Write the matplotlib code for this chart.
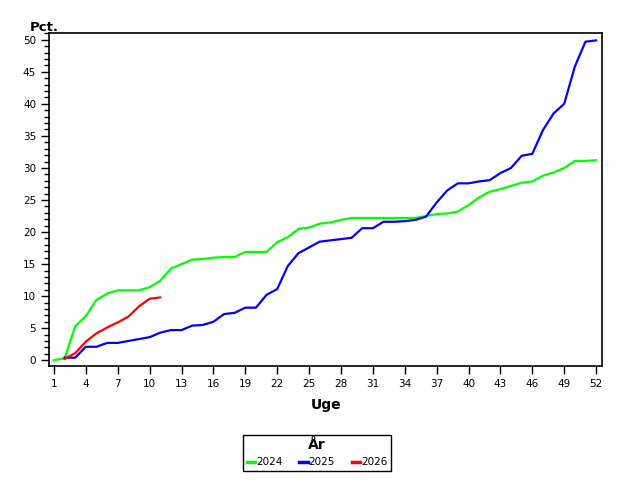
import matplotlib
matplotlib.use("Agg")
import matplotlib.pyplot as plt
from matplotlib.ticker import MultipleLocator, FixedLocator

# uger
weeks_2024 = list(range(1, 53))
pct_2024 = [0.0, 0.3, 5.3, 6.9, 9.4, 10.4, 10.9, 10.9, 10.9, 11.4,
            12.4, 14.3, 15.0, 15.7, 15.8, 16.0, 16.1, 16.1, 16.9, 16.9,
            16.9, 18.4, 19.2, 20.5, 20.7, 21.3, 21.5, 21.9, 22.2, 22.2,
            22.2, 22.2, 22.2, 22.2, 22.2, 22.5, 22.8, 22.9, 23.2, 24.2,
            25.4, 26.3, 26.7, 27.2, 27.7, 27.9, 28.8, 29.3, 30.0, 31.1,
            31.1, 31.2]

weeks_2025 = list(range(2, 53))
pct_2025 = [0.4, 0.4, 2.1, 2.1, 2.7, 2.7, 3.0, 3.3, 3.6, 4.3,
            4.7, 4.7, 5.4, 5.5, 6.0, 7.2, 7.4, 8.2, 8.2, 10.2,
            11.1, 14.7, 16.7, 17.6, 18.5, 18.7, 18.9, 19.1, 20.6, 20.6,
            21.6, 21.6, 21.7, 21.9, 22.4, 24.6, 26.5, 27.6, 27.6, 27.9,
            28.1, 29.2, 30.0, 31.9, 32.2, 35.9, 38.5, 40.0, 45.8, 49.7,
            49.9]

weeks_2026 = list(range(2, 12))
pct_2026 = [0.2, 1.1, 2.9, 4.2, 5.1, 5.9, 6.8, 8.4, 9.6, 9.8]

fig = plt.figure(figsize=(6.4, 4.8), dpi=100)
ax = fig.add_axes([0.077, 0.2375, 0.864, 0.693])

ax.plot(weeks_2024, pct_2024, color="#00ff00", lw=1.6, label="2024")
ax.plot(weeks_2025, pct_2025, color="#0000ff", lw=1.6, label="2025")
ax.plot(weeks_2026, pct_2026, color="#ff0000", lw=1.6, label="2026")

ax.set_xlim(0.56, 52.58)
ax.set_ylim(-0.9, 51.0)

ax.xaxis.set_major_locator(FixedLocator(range(1, 53, 3)))
ax.yaxis.set_major_locator(MultipleLocator(5))
ax.yaxis.set_minor_locator(MultipleLocator(1))
ax.tick_params(axis="both", which="major", labelsize=7.5, direction="out",
               length=6, width=1, color="black")
ax.tick_params(axis="y", which="minor", direction="out", length=3.5, width=1)

for s in ax.spines.values():
    s.set_linewidth(1.2)
    s.set_color("black")

ax.set_xlabel("Uge", fontsize=10, fontweight="bold", labelpad=6)
fig.text(0.047, 0.929, "Pct.", fontsize=9.5, fontweight="bold",
         ha="left", va="bottom")

leg = fig.legend(title="År", loc="center", bbox_to_anchor=(0.4955, 0.0565),
                 ncol=3, fontsize=7.5, handlelength=0.8, handletextpad=0.1,
                 columnspacing=1.6, fancybox=False, edgecolor="black",
                 framealpha=1, borderpad=0.35)
leg.get_title().set_fontweight("bold")
leg.get_title().set_fontsize(10)
leg.get_frame().set_linewidth(1.0)
for line in leg.get_lines():
    line.set_linewidth(2.5)

fig.savefig("out.png", dpi=100)
